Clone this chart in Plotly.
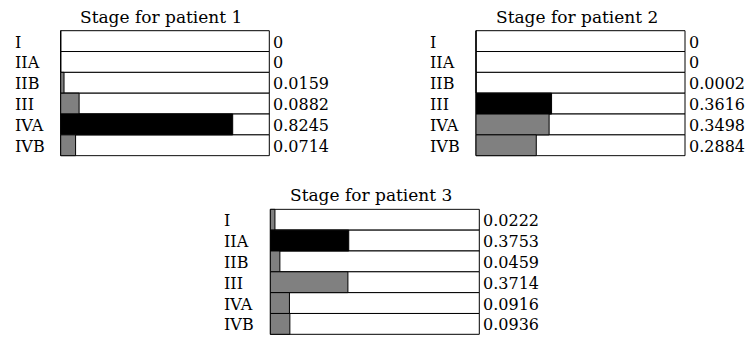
import plotly.graph_objects as go

stages = ["I", "IIA", "IIB", "III", "IVA", "IVB"]
titles = ["Stage for patient 1", "Stage for patient 2", "Stage for patient 3"]
patient1 = [0, 0, 0.0159, 0.0882, 0.8245, 0.0714]
patient2 = [0, 0, 0.0002, 0.3616, 0.3498, 0.2884]
patient3 = [0.0222, 0.3753, 0.0459, 0.3714, 0.0916, 0.0936]

W, H = 747, 338
FONT = "DejaVu Serif"
GRAY = "#808080"

# panel boxes in pixel space (left, right, top, bottom)
boxes = [(60.7, 269.3, 30.7, 155.7), (476.0, 685.0, 30.7, 155.7), (270.3, 479.3, 209.3, 334.3)]

fig = go.Figure()
annotations = []
for i, (vals, title, box) in enumerate(zip([patient1, patient2, patient3], titles, boxes)):
    n = i + 1
    xa = "x" if n == 1 else f"x{n}"
    ya = "y" if n == 1 else f"y{n}"
    vmax = max(vals)
    colors = ["black" if v == vmax else GRAY for v in vals]
    fig.add_trace(go.Bar(
        y=stages, x=[1.0] * len(stages), orientation="h",
        marker=dict(color="white", line=dict(color="black", width=1)),
        xaxis=xa, yaxis=ya, showlegend=False, hoverinfo="skip"))
    fig.add_trace(go.Bar(
        y=stages, x=vals, orientation="h",
        marker=dict(color=colors, line=dict(color="black", width=1)),
        xaxis=xa, yaxis=ya, showlegend=False))
    l, r, t, b = box
    padx = 1.0 / (r - l)
    pady = 1.0 / ((b - t) / 6.0)
    xkey = "xaxis" if n == 1 else f"xaxis{n}"
    ykey = "yaxis" if n == 1 else f"yaxis{n}"
    fig.layout[xkey] = dict(domain=[max(0, (l - 1) / W), min(1, (r + 1) / W)],
                            range=[-padx, 1 + padx],
                            visible=False, fixedrange=True, anchor=ya)
    fig.layout[ykey] = dict(domain=[max(0, 1 - (b + 1) / H), min(1, 1 - (t - 1) / H)],
                            range=[5.5 + pady, -0.5 - pady], type="category",
                            categoryorder="array", categoryarray=stages,
                            visible=False, fixedrange=True, anchor=xa)
    dref = f"{xa} domain"
    for s, v in zip(stages, vals):
        annotations.append(dict(xref=dref, yref=ya, x=0, y=s, xanchor="left", yanchor="middle",
                                 xshift=-47, yshift=-1, text=s, showarrow=False,
                                 font=dict(family=FONT, size=16, color="black")))
        annotations.append(dict(xref=dref, yref=ya, x=1, y=s, xanchor="left", yanchor="middle",
                                 xshift=1, yshift=-1, text=("0" if v == 0 else f"{v:.4f}"),
                                 showarrow=False,
                                 font=dict(family=FONT, size=16, color="black")))
    annotations.append(dict(xref=dref, yref=f"{ya} domain", x=0.5, y=1, xanchor="center",
                            yanchor="bottom", xshift=-4, yshift=1, text=title, showarrow=False,
                            font=dict(family=FONT, size=17, color="black")))

fig.update_layout(
    width=W, height=H, margin=dict(l=0, r=0, t=0, b=0),
    paper_bgcolor="white", plot_bgcolor="white",
    barmode="overlay", bargap=0,
    annotations=annotations,
)
fig.write_html("out.html", config={"displayModeBar": False, "staticPlot": True},
               post_script="document.body.style.margin='0';document.body.style.overflow='hidden';")
